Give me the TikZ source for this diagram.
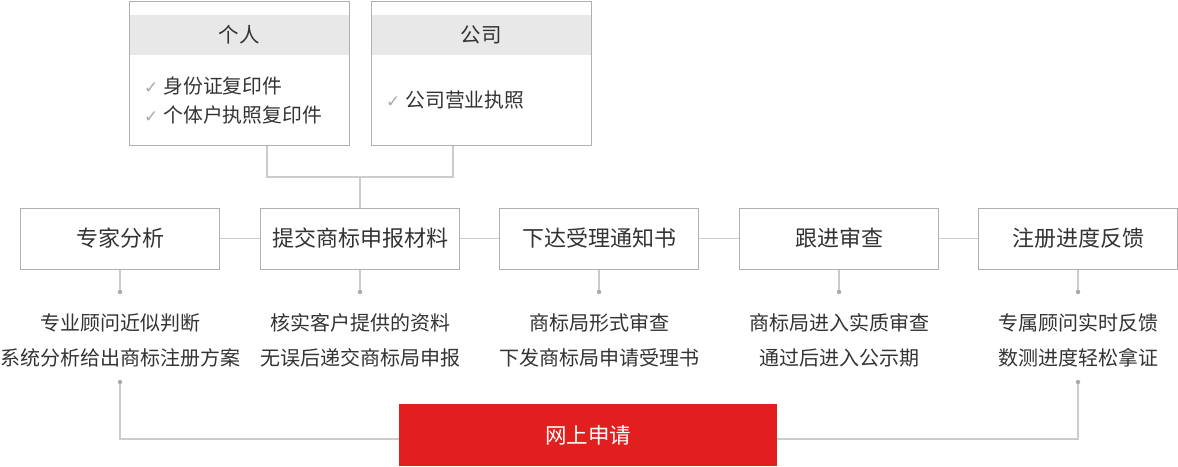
\documentclass[tikz,border=0pt]{standalone}
\usepackage{fontspec}
\setmainfont{Noto Sans CJK SC}
\newfontfamily\symfont{DejaVu Sans}
\usepackage{xcolor}
\usetikzlibrary{positioning}
\definecolor{boxline}{HTML}{AFAFAF}
\definecolor{conline}{HTML}{CCCCCC}
\definecolor{hdrfill}{HTML}{E8E8E8}
\definecolor{txt}{HTML}{333333}
\definecolor{chk}{HTML}{ABABAB}
\definecolor{dotgray}{HTML}{AAAAAA}
\definecolor{webred}{HTML}{E21F1F}
\tikzset{
  stepbox/.style = {rectangle, draw=boxline, line width=1pt, fill=white, text=txt,
                    minimum width=199pt, minimum height=61pt, inner sep=0pt,
                    font=\fontsize{22}{26}\selectfont},
  topbox/.style  = {rectangle, draw=boxline, line width=1pt, fill=white,
                    minimum width=220pt, minimum height=144pt, inner sep=0pt},
  hdr/.style     = {rectangle, fill=hdrfill, text=txt, minimum width=219pt,
                    minimum height=40pt, inner sep=0pt, font=\fontsize{20.5}{24}\selectfont},
  item/.style    = {anchor=west, inner sep=0pt, text=txt, font=\fontsize{19.8}{24}\selectfont},
  desc/.style    = {align=center, inner sep=0pt, text=txt, font=\fontsize{20}{35}\selectfont},
  dot/.style     = {circle, fill=dotgray, inner sep=0pt, minimum size=4.5pt},
  ln/.style      = {draw=conline, line width=1.3pt},
  webbox/.style  = {rectangle, fill=webred, text=white, minimum width=378pt,
                    minimum height=62pt, inner sep=0pt, font=\fontsize{21.5}{26}\selectfont},
}
\newcommand{\chkmark}{{\symfont\fontsize{17}{18}\selectfont\color{chk}✓}\hspace{5pt}}

\begin{document}
\begin{tikzpicture}[x=1pt,y=-1pt]
  \useasboundingbox (0,0) rectangle (1178,466);
  % documents for each applicant type
  \node[topbox] (pers) at (239,73) {};
  \node[topbox] (comp) at (481,73) {};
  \node[hdr] (pershdr) at (239,35) {个人};
  \node[hdr] (comphdr) at (481,35) {公司};
  \node[item] (pers1) at (144,86) {\chkmark 身份证复印件};
  \node[item] (pers2) at (144,115) {\chkmark 个体户执照复印件};
  \node[item] (comp1) at (386,100) {\chkmark 公司营业执照};

  % process steps
  \node[stepbox] (s1) at (120,238.5) {专家分析};
  \node[stepbox] (s2) at (360,238.5) {提交商标申报材料};
  \node[stepbox] (s3) at (599,238.5) {下达受理通知书};
  \node[stepbox] (s4) at (839,238.5) {跟进审查};
  \node[stepbox] (s5) at (1078,238.5) {注册进度反馈};

  \coordinate (join) at (360,177);
  \draw[ln] ([xshift=28pt]pers.south) |- (join) -| ([xshift=-28pt]comp.south);
  \draw[ln] (join) -- (s2.north);
  \draw[ln] (s1) -- (s2);
  \draw[ln] (s2) -- (s3);
  \draw[ln] (s3) -- (s4);
  \draw[ln] (s4) -- (s5);

  \foreach \i in {1,...,5}{
    \node[dot, below=20pt of s\i] (d\i) {};
    \draw[ln] (s\i.south) -- (d\i);
  }

  \node[desc] (t1) at (120,340) {专业顾问近似判断\\系统分析给出商标注册方案};
  \node[desc] (t2) at (360,340) {核实客户提供的资料\\无误后递交商标局申报};
  \node[desc] (t3) at (599,340) {商标局形式审查\\下发商标局申请受理书};
  \node[desc] (t4) at (839,340) {商标局进入实质审查\\通过后进入公示期};
  \node[desc] (t5) at (1078,340) {专属顾问实时反馈\\数测进度轻松拿证};

  % online application
  \node[webbox] (web) at (588,435) {网上申请};
  \node[dot] (b1) at (120,382) {};
  \node[dot] (b5) at (1078,382) {};
  \draw[ln] (b1) |- ([yshift=-4pt]web.west);
  \draw[ln] (b5) |- ([yshift=-4pt]web.east);
\end{tikzpicture}
\end{document}
